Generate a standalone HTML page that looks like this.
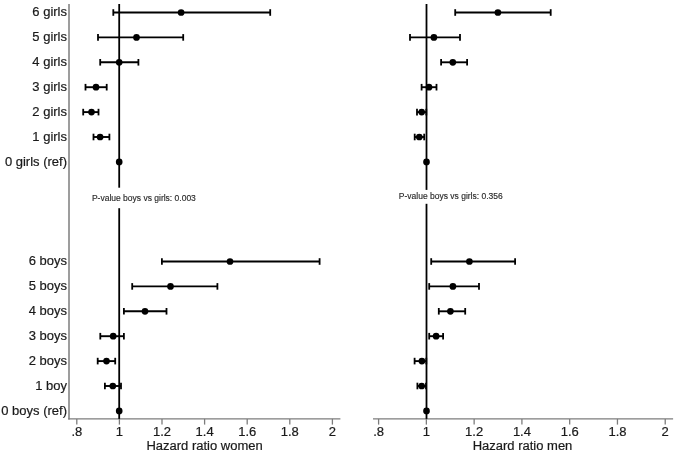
<!DOCTYPE html>
<html><head><meta charset="utf-8"><style>
html,body{margin:0;padding:0;background:#fff;width:675px;height:453px;overflow:hidden}
svg{display:block;font-family:"Liberation Sans",sans-serif;will-change:transform}
</style></head><body>
<svg width="675" height="453" viewBox="0 0 675 453">
<rect width="675" height="453" fill="#fff"/>
<text transform="translate(67.00,16.30) scale(1.04,1)" text-anchor="end" font-size="12.5" fill="#1a1a1a" stroke="#1a1a1a" stroke-width="0.2">6 girls</text>
<text transform="translate(67.00,41.20) scale(1.04,1)" text-anchor="end" font-size="12.5" fill="#1a1a1a" stroke="#1a1a1a" stroke-width="0.2">5 girls</text>
<text transform="translate(67.00,66.10) scale(1.04,1)" text-anchor="end" font-size="12.5" fill="#1a1a1a" stroke="#1a1a1a" stroke-width="0.2">4 girls</text>
<text transform="translate(67.00,91.00) scale(1.04,1)" text-anchor="end" font-size="12.5" fill="#1a1a1a" stroke="#1a1a1a" stroke-width="0.2">3 girls</text>
<text transform="translate(67.00,115.90) scale(1.04,1)" text-anchor="end" font-size="12.5" fill="#1a1a1a" stroke="#1a1a1a" stroke-width="0.2">2 girls</text>
<text transform="translate(67.00,140.80) scale(1.04,1)" text-anchor="end" font-size="12.5" fill="#1a1a1a" stroke="#1a1a1a" stroke-width="0.2">1 girls</text>
<text transform="translate(67.00,165.70) scale(1.04,1)" text-anchor="end" font-size="12.5" fill="#1a1a1a" stroke="#1a1a1a" stroke-width="0.2">0 girls (ref)</text>
<text transform="translate(67.00,265.30) scale(1.04,1)" text-anchor="end" font-size="12.5" fill="#1a1a1a" stroke="#1a1a1a" stroke-width="0.2">6 boys</text>
<text transform="translate(67.00,290.20) scale(1.04,1)" text-anchor="end" font-size="12.5" fill="#1a1a1a" stroke="#1a1a1a" stroke-width="0.2">5 boys</text>
<text transform="translate(67.00,315.10) scale(1.04,1)" text-anchor="end" font-size="12.5" fill="#1a1a1a" stroke="#1a1a1a" stroke-width="0.2">4 boys</text>
<text transform="translate(67.00,340.00) scale(1.04,1)" text-anchor="end" font-size="12.5" fill="#1a1a1a" stroke="#1a1a1a" stroke-width="0.2">3 boys</text>
<text transform="translate(67.00,364.90) scale(1.04,1)" text-anchor="end" font-size="12.5" fill="#1a1a1a" stroke="#1a1a1a" stroke-width="0.2">2 boys</text>
<text transform="translate(67.00,389.80) scale(1.04,1)" text-anchor="end" font-size="12.5" fill="#1a1a1a" stroke="#1a1a1a" stroke-width="0.2">1 boy</text>
<text transform="translate(67.00,414.70) scale(1.04,1)" text-anchor="end" font-size="12.5" fill="#1a1a1a" stroke="#1a1a1a" stroke-width="0.2">0 boys (ref)</text>
<line x1="69.00" y1="4.00" x2="69.00" y2="419.60" stroke="#7c7c7c" stroke-width="1.5"/>
<line x1="68.25" y1="418.90" x2="340.40" y2="418.90" stroke="#7c7c7c" stroke-width="1.4"/>
<line x1="76.80" y1="418.90" x2="76.80" y2="424.60" stroke="#7c7c7c" stroke-width="1.3"/>
<text transform="translate(76.80,436.00) scale(1.04,1)" text-anchor="middle" font-size="12.5" fill="#1a1a1a" stroke="#1a1a1a" stroke-width="0.2">.8</text>
<line x1="119.40" y1="418.90" x2="119.40" y2="424.60" stroke="#7c7c7c" stroke-width="1.3"/>
<text transform="translate(119.40,436.00) scale(1.04,1)" text-anchor="middle" font-size="12.5" fill="#1a1a1a" stroke="#1a1a1a" stroke-width="0.2">1</text>
<line x1="162.00" y1="418.90" x2="162.00" y2="424.60" stroke="#7c7c7c" stroke-width="1.3"/>
<text transform="translate(162.00,436.00) scale(1.04,1)" text-anchor="middle" font-size="12.5" fill="#1a1a1a" stroke="#1a1a1a" stroke-width="0.2">1.2</text>
<line x1="204.60" y1="418.90" x2="204.60" y2="424.60" stroke="#7c7c7c" stroke-width="1.3"/>
<text transform="translate(204.60,436.00) scale(1.04,1)" text-anchor="middle" font-size="12.5" fill="#1a1a1a" stroke="#1a1a1a" stroke-width="0.2">1.4</text>
<line x1="247.20" y1="418.90" x2="247.20" y2="424.60" stroke="#7c7c7c" stroke-width="1.3"/>
<text transform="translate(247.20,436.00) scale(1.04,1)" text-anchor="middle" font-size="12.5" fill="#1a1a1a" stroke="#1a1a1a" stroke-width="0.2">1.6</text>
<line x1="289.80" y1="418.90" x2="289.80" y2="424.60" stroke="#7c7c7c" stroke-width="1.3"/>
<text transform="translate(289.80,436.00) scale(1.04,1)" text-anchor="middle" font-size="12.5" fill="#1a1a1a" stroke="#1a1a1a" stroke-width="0.2">1.8</text>
<line x1="332.40" y1="418.90" x2="332.40" y2="424.60" stroke="#7c7c7c" stroke-width="1.3"/>
<text transform="translate(332.40,436.00) scale(1.04,1)" text-anchor="middle" font-size="12.5" fill="#1a1a1a" stroke="#1a1a1a" stroke-width="0.2">2</text>
<text transform="translate(204.60,450.00) scale(1.04,1)" text-anchor="middle" font-size="12.5" fill="#1a1a1a" stroke="#1a1a1a" stroke-width="0.2">Hazard ratio women</text>
<line x1="119.20" y1="4.00" x2="119.20" y2="187.70" stroke="#000" stroke-width="1.8"/>
<line x1="119.20" y1="208.20" x2="119.20" y2="418.90" stroke="#000" stroke-width="1.8"/>
<text transform="translate(91.90,200.70) scale(1.0,1)" text-anchor="start" font-size="8.5" fill="#2a2a2a" stroke="#2a2a2a" stroke-width="0.15">P-value boys vs girls: 0.003</text>
<line x1="113.30" y1="12.50" x2="270.20" y2="12.50" stroke="#000" stroke-width="1.9"/>
<line x1="113.30" y1="9.20" x2="113.30" y2="15.80" stroke="#000" stroke-width="1.8"/>
<line x1="270.20" y1="9.20" x2="270.20" y2="15.80" stroke="#000" stroke-width="1.8"/>
<circle cx="181.10" cy="12.50" r="3.35" fill="#000"/>
<line x1="98.00" y1="37.40" x2="183.20" y2="37.40" stroke="#000" stroke-width="1.9"/>
<line x1="98.00" y1="34.10" x2="98.00" y2="40.70" stroke="#000" stroke-width="1.8"/>
<line x1="183.20" y1="34.10" x2="183.20" y2="40.70" stroke="#000" stroke-width="1.8"/>
<circle cx="136.50" cy="37.40" r="3.35" fill="#000"/>
<line x1="100.20" y1="62.30" x2="138.40" y2="62.30" stroke="#000" stroke-width="1.9"/>
<line x1="100.20" y1="59.00" x2="100.20" y2="65.60" stroke="#000" stroke-width="1.8"/>
<line x1="138.40" y1="59.00" x2="138.40" y2="65.60" stroke="#000" stroke-width="1.8"/>
<circle cx="119.20" cy="62.30" r="3.35" fill="#000"/>
<line x1="85.50" y1="87.20" x2="106.70" y2="87.20" stroke="#000" stroke-width="1.9"/>
<line x1="85.50" y1="83.90" x2="85.50" y2="90.50" stroke="#000" stroke-width="1.8"/>
<line x1="106.70" y1="83.90" x2="106.70" y2="90.50" stroke="#000" stroke-width="1.8"/>
<circle cx="96.00" cy="87.20" r="3.35" fill="#000"/>
<line x1="83.20" y1="112.10" x2="98.50" y2="112.10" stroke="#000" stroke-width="1.9"/>
<line x1="83.20" y1="108.80" x2="83.20" y2="115.40" stroke="#000" stroke-width="1.8"/>
<line x1="98.50" y1="108.80" x2="98.50" y2="115.40" stroke="#000" stroke-width="1.8"/>
<circle cx="91.50" cy="112.10" r="3.35" fill="#000"/>
<line x1="93.50" y1="137.00" x2="109.40" y2="137.00" stroke="#000" stroke-width="1.9"/>
<line x1="93.50" y1="133.70" x2="93.50" y2="140.30" stroke="#000" stroke-width="1.8"/>
<line x1="109.40" y1="133.70" x2="109.40" y2="140.30" stroke="#000" stroke-width="1.8"/>
<circle cx="100.10" cy="137.00" r="3.35" fill="#000"/>
<circle cx="119.20" cy="161.90" r="3.35" fill="#000"/>
<line x1="161.90" y1="261.50" x2="319.60" y2="261.50" stroke="#000" stroke-width="1.9"/>
<line x1="161.90" y1="258.20" x2="161.90" y2="264.80" stroke="#000" stroke-width="1.8"/>
<line x1="319.60" y1="258.20" x2="319.60" y2="264.80" stroke="#000" stroke-width="1.8"/>
<circle cx="230.00" cy="261.50" r="3.35" fill="#000"/>
<line x1="132.20" y1="286.40" x2="217.40" y2="286.40" stroke="#000" stroke-width="1.9"/>
<line x1="132.20" y1="283.10" x2="132.20" y2="289.70" stroke="#000" stroke-width="1.8"/>
<line x1="217.40" y1="283.10" x2="217.40" y2="289.70" stroke="#000" stroke-width="1.8"/>
<circle cx="170.50" cy="286.40" r="3.35" fill="#000"/>
<line x1="123.90" y1="311.30" x2="166.50" y2="311.30" stroke="#000" stroke-width="1.9"/>
<line x1="123.90" y1="308.00" x2="123.90" y2="314.60" stroke="#000" stroke-width="1.8"/>
<line x1="166.50" y1="308.00" x2="166.50" y2="314.60" stroke="#000" stroke-width="1.8"/>
<circle cx="145.00" cy="311.30" r="3.35" fill="#000"/>
<line x1="100.30" y1="336.20" x2="123.90" y2="336.20" stroke="#000" stroke-width="1.9"/>
<line x1="100.30" y1="332.90" x2="100.30" y2="339.50" stroke="#000" stroke-width="1.8"/>
<line x1="123.90" y1="332.90" x2="123.90" y2="339.50" stroke="#000" stroke-width="1.8"/>
<circle cx="113.20" cy="336.20" r="3.35" fill="#000"/>
<line x1="97.70" y1="361.10" x2="115.20" y2="361.10" stroke="#000" stroke-width="1.9"/>
<line x1="97.70" y1="357.80" x2="97.70" y2="364.40" stroke="#000" stroke-width="1.8"/>
<line x1="115.20" y1="357.80" x2="115.20" y2="364.40" stroke="#000" stroke-width="1.8"/>
<circle cx="106.50" cy="361.10" r="3.35" fill="#000"/>
<line x1="104.90" y1="386.00" x2="121.00" y2="386.00" stroke="#000" stroke-width="1.9"/>
<line x1="104.90" y1="382.70" x2="104.90" y2="389.30" stroke="#000" stroke-width="1.8"/>
<line x1="121.00" y1="382.70" x2="121.00" y2="389.30" stroke="#000" stroke-width="1.8"/>
<circle cx="112.80" cy="386.00" r="3.35" fill="#000"/>
<circle cx="119.20" cy="410.90" r="3.35" fill="#000"/>
<line x1="373.00" y1="418.90" x2="673.10" y2="418.90" stroke="#7c7c7c" stroke-width="1.4"/>
<line x1="378.60" y1="418.90" x2="378.60" y2="424.60" stroke="#7c7c7c" stroke-width="1.3"/>
<text transform="translate(378.60,436.00) scale(1.04,1)" text-anchor="middle" font-size="12.5" fill="#1a1a1a" stroke="#1a1a1a" stroke-width="0.2">.8</text>
<line x1="426.37" y1="418.90" x2="426.37" y2="424.60" stroke="#7c7c7c" stroke-width="1.3"/>
<text transform="translate(426.37,436.00) scale(1.04,1)" text-anchor="middle" font-size="12.5" fill="#1a1a1a" stroke="#1a1a1a" stroke-width="0.2">1</text>
<line x1="474.14" y1="418.90" x2="474.14" y2="424.60" stroke="#7c7c7c" stroke-width="1.3"/>
<text transform="translate(474.14,436.00) scale(1.04,1)" text-anchor="middle" font-size="12.5" fill="#1a1a1a" stroke="#1a1a1a" stroke-width="0.2">1.2</text>
<line x1="521.91" y1="418.90" x2="521.91" y2="424.60" stroke="#7c7c7c" stroke-width="1.3"/>
<text transform="translate(521.91,436.00) scale(1.04,1)" text-anchor="middle" font-size="12.5" fill="#1a1a1a" stroke="#1a1a1a" stroke-width="0.2">1.4</text>
<line x1="569.68" y1="418.90" x2="569.68" y2="424.60" stroke="#7c7c7c" stroke-width="1.3"/>
<text transform="translate(569.68,436.00) scale(1.04,1)" text-anchor="middle" font-size="12.5" fill="#1a1a1a" stroke="#1a1a1a" stroke-width="0.2">1.6</text>
<line x1="617.45" y1="418.90" x2="617.45" y2="424.60" stroke="#7c7c7c" stroke-width="1.3"/>
<text transform="translate(617.45,436.00) scale(1.04,1)" text-anchor="middle" font-size="12.5" fill="#1a1a1a" stroke="#1a1a1a" stroke-width="0.2">1.8</text>
<line x1="665.22" y1="418.90" x2="665.22" y2="424.60" stroke="#7c7c7c" stroke-width="1.3"/>
<text transform="translate(665.22,436.00) scale(1.04,1)" text-anchor="middle" font-size="12.5" fill="#1a1a1a" stroke="#1a1a1a" stroke-width="0.2">2</text>
<text transform="translate(522.50,450.00) scale(1.04,1)" text-anchor="middle" font-size="12.5" fill="#1a1a1a" stroke="#1a1a1a" stroke-width="0.2">Hazard ratio men</text>
<line x1="426.50" y1="4.00" x2="426.50" y2="189.90" stroke="#000" stroke-width="1.8"/>
<line x1="426.50" y1="203.80" x2="426.50" y2="418.90" stroke="#000" stroke-width="1.8"/>
<text transform="translate(398.80,198.90) scale(1.0,1)" text-anchor="start" font-size="8.5" fill="#2a2a2a" stroke="#2a2a2a" stroke-width="0.15">P-value boys vs girls: 0.356</text>
<line x1="455.20" y1="12.50" x2="550.70" y2="12.50" stroke="#000" stroke-width="1.9"/>
<line x1="455.20" y1="9.20" x2="455.20" y2="15.80" stroke="#000" stroke-width="1.8"/>
<line x1="550.70" y1="9.20" x2="550.70" y2="15.80" stroke="#000" stroke-width="1.8"/>
<circle cx="497.90" cy="12.50" r="3.35" fill="#000"/>
<line x1="410.00" y1="37.40" x2="460.00" y2="37.40" stroke="#000" stroke-width="1.9"/>
<line x1="410.00" y1="34.10" x2="410.00" y2="40.70" stroke="#000" stroke-width="1.8"/>
<line x1="460.00" y1="34.10" x2="460.00" y2="40.70" stroke="#000" stroke-width="1.8"/>
<circle cx="433.90" cy="37.40" r="3.35" fill="#000"/>
<line x1="441.10" y1="62.30" x2="467.10" y2="62.30" stroke="#000" stroke-width="1.9"/>
<line x1="441.10" y1="59.00" x2="441.10" y2="65.60" stroke="#000" stroke-width="1.8"/>
<line x1="467.10" y1="59.00" x2="467.10" y2="65.60" stroke="#000" stroke-width="1.8"/>
<circle cx="452.80" cy="62.30" r="3.35" fill="#000"/>
<line x1="421.60" y1="87.20" x2="436.50" y2="87.20" stroke="#000" stroke-width="1.9"/>
<line x1="421.60" y1="83.90" x2="421.60" y2="90.50" stroke="#000" stroke-width="1.8"/>
<line x1="436.50" y1="83.90" x2="436.50" y2="90.50" stroke="#000" stroke-width="1.8"/>
<circle cx="429.00" cy="87.20" r="3.35" fill="#000"/>
<line x1="417.00" y1="112.10" x2="426.30" y2="112.10" stroke="#000" stroke-width="1.9"/>
<line x1="417.00" y1="108.80" x2="417.00" y2="115.40" stroke="#000" stroke-width="1.8"/>
<line x1="426.30" y1="108.80" x2="426.30" y2="115.40" stroke="#000" stroke-width="1.8"/>
<circle cx="421.70" cy="112.10" r="3.35" fill="#000"/>
<line x1="414.70" y1="137.00" x2="424.20" y2="137.00" stroke="#000" stroke-width="1.9"/>
<line x1="414.70" y1="133.70" x2="414.70" y2="140.30" stroke="#000" stroke-width="1.8"/>
<line x1="424.20" y1="133.70" x2="424.20" y2="140.30" stroke="#000" stroke-width="1.8"/>
<circle cx="419.30" cy="137.00" r="3.35" fill="#000"/>
<circle cx="426.50" cy="161.90" r="3.35" fill="#000"/>
<line x1="431.20" y1="261.50" x2="515.10" y2="261.50" stroke="#000" stroke-width="1.9"/>
<line x1="431.20" y1="258.20" x2="431.20" y2="264.80" stroke="#000" stroke-width="1.8"/>
<line x1="515.10" y1="258.20" x2="515.10" y2="264.80" stroke="#000" stroke-width="1.8"/>
<circle cx="469.40" cy="261.50" r="3.35" fill="#000"/>
<line x1="429.20" y1="286.40" x2="479.00" y2="286.40" stroke="#000" stroke-width="1.9"/>
<line x1="429.20" y1="283.10" x2="429.20" y2="289.70" stroke="#000" stroke-width="1.8"/>
<line x1="479.00" y1="283.10" x2="479.00" y2="289.70" stroke="#000" stroke-width="1.8"/>
<circle cx="452.90" cy="286.40" r="3.35" fill="#000"/>
<line x1="438.80" y1="311.30" x2="465.20" y2="311.30" stroke="#000" stroke-width="1.9"/>
<line x1="438.80" y1="308.00" x2="438.80" y2="314.60" stroke="#000" stroke-width="1.8"/>
<line x1="465.20" y1="308.00" x2="465.20" y2="314.60" stroke="#000" stroke-width="1.8"/>
<circle cx="450.40" cy="311.30" r="3.35" fill="#000"/>
<line x1="429.20" y1="336.20" x2="443.10" y2="336.20" stroke="#000" stroke-width="1.9"/>
<line x1="429.20" y1="332.90" x2="429.20" y2="339.50" stroke="#000" stroke-width="1.8"/>
<line x1="443.10" y1="332.90" x2="443.10" y2="339.50" stroke="#000" stroke-width="1.8"/>
<circle cx="436.10" cy="336.20" r="3.35" fill="#000"/>
<line x1="414.60" y1="361.10" x2="426.30" y2="361.10" stroke="#000" stroke-width="1.9"/>
<line x1="414.60" y1="357.80" x2="414.60" y2="364.40" stroke="#000" stroke-width="1.8"/>
<line x1="426.30" y1="357.80" x2="426.30" y2="364.40" stroke="#000" stroke-width="1.8"/>
<circle cx="421.90" cy="361.10" r="3.35" fill="#000"/>
<line x1="417.40" y1="386.00" x2="426.00" y2="386.00" stroke="#000" stroke-width="1.9"/>
<line x1="417.40" y1="382.70" x2="417.40" y2="389.30" stroke="#000" stroke-width="1.8"/>
<line x1="426.00" y1="382.70" x2="426.00" y2="389.30" stroke="#000" stroke-width="1.8"/>
<circle cx="421.70" cy="386.00" r="3.35" fill="#000"/>
<circle cx="426.50" cy="410.90" r="3.35" fill="#000"/>
</svg>
</body></html>
